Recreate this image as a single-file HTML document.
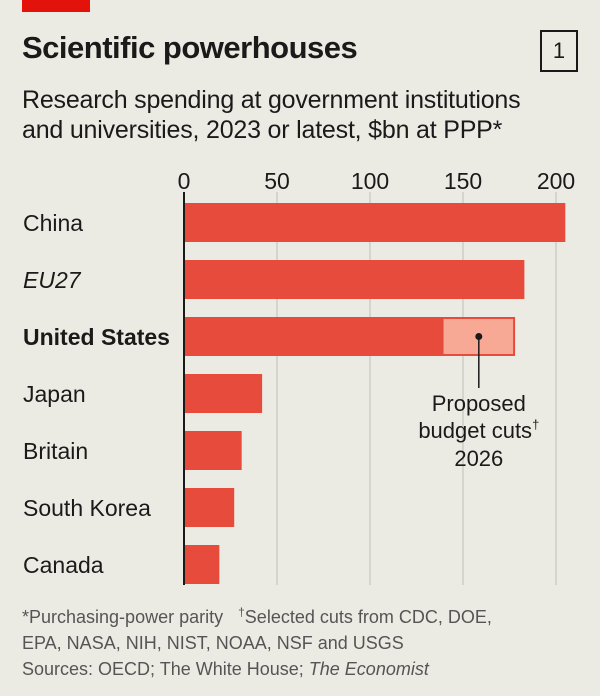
<!DOCTYPE html>
<html><head><meta charset="utf-8">
<style>
body{margin:0;background:#ecebe3;}
#c{position:relative;width:600px;height:696px;background:#ecebe3;font-family:"Liberation Sans",sans-serif;color:#1a1a1a;overflow:hidden}
.t{position:absolute;white-space:nowrap}
</style></head><body>
<div id="c">
<div class="t" style="left:22px;top:0;width:68px;height:12px;background:#e3120b"></div>
<div class="t" style="left:22px;top:30px;font-size:31px;font-weight:bold;letter-spacing:-0.5px">Scientific powerhouses</div>
<div class="t" style="left:540px;top:30px;width:34px;height:38px;border:2px solid #1a1a1a;font-size:22px;text-align:center;line-height:38px;box-sizing:content-box">1</div>
<div class="t" style="left:22px;top:85px;font-size:25px;line-height:30px;letter-spacing:-0.2px">Research spending at government institutions<br>and universities, 2023 or latest, $bn at PPP*</div>
<svg id="s" width="600" height="696" style="position:absolute;left:0;top:0"></svg>
<div class="t" style="left:22px;top:599px;font-size:18px;line-height:26px;color:#555">*Purchasing-power parity &nbsp;&nbsp;<sup style="font-size:12px">†</sup>Selected cuts from CDC, DOE,<br>EPA, NASA, NIH, NIST, NOAA, NSF and USGS<br>Sources: OECD; The White House; <i>The Economist</i></div>
</div>
<script>
const categories=["China","EU27","United States","Japan","Britain","South Korea","Canada"];
const values=[205,183,139,42,31,27,19];
const cutValues=[0,0,39,0,0,0,0];
const ticks=[0,50,100,150,200];
const x0=184,k=1.86,top0=203,step=57,bh=39;
const X=v=>x0+v*k, Y=i=>top0+i*step;
const s=document.getElementById('s'),NS='http://www.w3.org/2000/svg';
function mk(t,a){const e=document.createElementNS(NS,t);for(const n in a)e.setAttribute(n,a[n]);s.appendChild(e);return e;}
ticks.forEach(t=>{
 if(t>0){const g=mk('line',{x1:X(t),x2:X(t),y1:192,y2:585,stroke:'#cfcdc4','stroke-width':1.5});
 
 }
 const l=mk('text',{x:X(t),y:189,'font-size':23,'text-anchor':'middle',fill:'#1a1a1a','font-family':'Liberation Sans'});
 l.textContent=t;
 
 
});
categories.forEach((c,i)=>{
 const r=mk('rect',{x:X(0),y:Y(i),width:values[i]*k,height:bh,fill:'#e64b3b'});
 
 
 if(cutValues[i]>0){const q=mk('rect',{x:X(values[i]),y:Y(i)+1,width:cutValues[i]*k-1,height:bh-2,fill:'#f7a996',stroke:'#e64b3b','stroke-width':2});
 
 }
 const t=mk('text',{x:23,y:Y(i)+28,'font-size':23,fill:'#1a1a1a','font-family':'Liberation Sans'});
 if(c==='EU27')t.setAttribute('font-style','italic');
 if(c==='United States')t.setAttribute('font-weight','bold');
 t.textContent=c;
 
 
});
const ax=mk('line',{x1:X(0),x2:X(0),y1:192,y2:585,stroke:'#1a1a1a','stroke-width':2});


const ui=2,cx=X(values[ui]+cutValues[ui]/2),cy=Y(ui)+bh/2;
const dot=mk('circle',{cx:cx,cy:cy,r:3.5,fill:'#1a1a1a'});


const ln=mk('line',{x1:cx,x2:cx,y1:cy,y2:388,stroke:'#1a1a1a','stroke-width':1.5});


[["Proposed",411],["budget cuts",438],["2026",466]].forEach((p,j)=>{
 const t=mk('text',{x:cx,y:p[1],'font-size':22,'text-anchor':'middle',fill:'#1a1a1a','font-family':'Liberation Sans'});
 t.textContent=p[0];
 if(j===1){const sp=document.createElementNS(NS,'tspan');sp.setAttribute('dy','-9');sp.setAttribute('font-size','13');sp.textContent='†';t.appendChild(sp);}
 
 
});
</script>
</body></html>
